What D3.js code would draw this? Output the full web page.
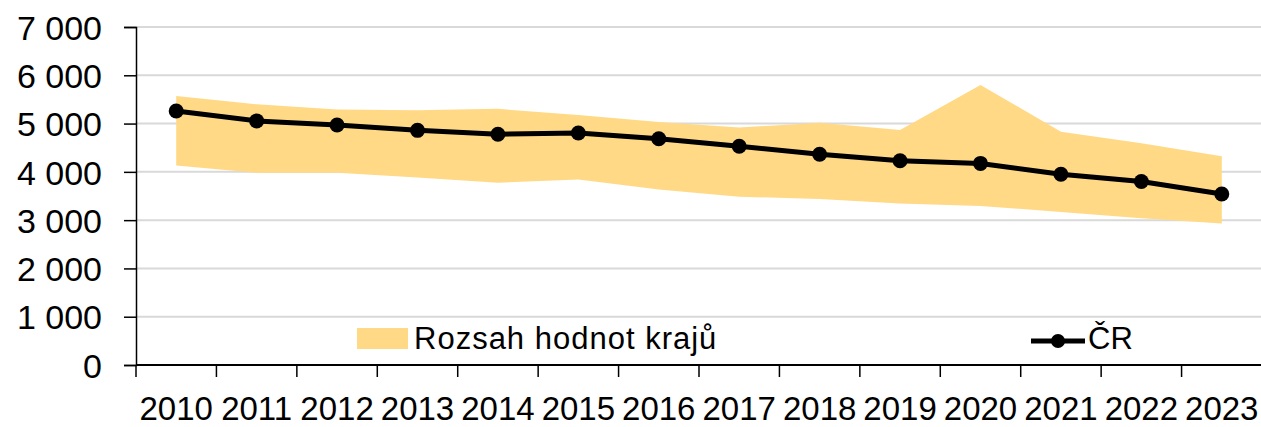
<!DOCTYPE html>
<html>
<head>
<meta charset="utf-8">
<script src="https://cdn.jsdelivr.net/npm/d3@7"></script>
<style>
  body { margin: 0; background: #fff; }
  text { font-family: "Liberation Sans", Arial, sans-serif; fill: #000; }
</style>
</head>
<body>
<div id="chart"></div>
<script>
var years = ["2010","2011","2012","2013","2014","2015","2016","2017","2018","2019","2020","2021","2022","2023"];
var crValues = [5260, 5055, 4970, 4860, 4780, 4805, 4685, 4530, 4365, 4230, 4175, 3950, 3800, 3540];
var regionMax = [5570, 5400, 5290, 5275, 5305, 5175, 5030, 4920, 5015, 4865, 5800, 4830, 4590, 4325];
var regionMin = [4130, 3980, 3980, 3885, 3775, 3840, 3635, 3485, 3440, 3345, 3295, 3170, 3040, 2930];
var yTicks = [0, 1000, 2000, 3000, 4000, 5000, 6000, 7000];

var margin = {top: 27, right: 0, bottom: 62, left: 136},
    width = 1262 - margin.left - margin.right,
    height = 427 - margin.top - margin.bottom;

var svg = d3.select("#chart").append("svg")
    .attr("width", 1261)
    .attr("height", 427)
  .append("g")
    .attr("transform", "translate(" + margin.left + "," + margin.top + ")");

var x = d3.scaleBand().domain(years).range([0, width]);
var y = d3.scaleLinear().domain([0, 7000]).range([height, 0]);
var cx = function(d, i) { return x(years[i]) + x.bandwidth() / 2; };

var fmt = function(v) { return d3.format(",")(v).replace(/,/g, " "); };

// gridlines
svg.selectAll(".grid").data(yTicks.slice(1)).enter()
  .append("line")
    .attr("x1", 0).attr("x2", width)
    .attr("y1", function(d) { return y(d); })
    .attr("y2", function(d) { return y(d); })
    .style("stroke", "#d9d9d9")
    .style("stroke-width", 2);

// range area
var area = d3.area()
    .x(cx)
    .y0(function(d, i) { return y(regionMin[i]); })
    .y1(function(d, i) { return y(regionMax[i]); });

svg.append("path")
    .datum(years)
    .attr("d", area)
    .style("fill", "#ffd985");

// y axis
var yAxis = d3.axisLeft(y).tickValues(yTicks).tickFormat(fmt).tickSize(12).tickPadding(22);
var gy = svg.append("g").call(yAxis);
gy.select(".domain").style("stroke", "#000").style("stroke-width", 1.5);
gy.selectAll(".tick line").style("stroke", "#000").style("stroke-width", 1.5);
gy.selectAll("text").style("font-size", "34px").attr("dy", "0.36em");

// x axis with ticks between categories
var gx = svg.append("g").attr("transform", "translate(0," + height + ")");
gx.append("line").attr("x1", 0).attr("x2", width).style("stroke", "#000").style("stroke-width", 2);
gx.selectAll(".xt").data(years).enter()
  .append("line")
    .attr("x1", function(d) { return x(d); })
    .attr("x2", function(d) { return x(d); })
    .attr("y1", 0).attr("y2", 12)
    .style("stroke", "#000").style("stroke-width", 1.5);
gx.selectAll(".xl").data(years).enter()
  .append("text")
    .attr("x", function(d) { return x(d) + x.bandwidth() / 2; })
    .attr("y", 55)
    .attr("text-anchor", "middle")
    .style("font-size", "33px")
    .text(function(d) { return d; });

// CR line
var line = d3.line().x(cx).y(function(d) { return y(d); });
svg.append("path")
    .datum(crValues)
    .attr("d", line)
    .style("fill", "none")
    .style("stroke", "#000")
    .style("stroke-width", 5);

svg.selectAll(".dot").data(crValues).enter()
  .append("circle")
    .attr("cx", cx)
    .attr("cy", function(d) { return y(d); })
    .attr("r", 7.5)
    .style("fill", "#000");

// legend
var lg = svg.append("g").attr("transform", "translate(" + (357 - margin.left) + "," + (338 - margin.top) + ")");
lg.append("rect").attr("x", 0).attr("y", -10).attr("width", 51).attr("height", 21).style("fill", "#ffd985");
lg.append("text").attr("x", 57).attr("y", 11).style("font-size", "31px").style("letter-spacing", "1px").text("Rozsah hodnot krajů");

var lg2 = svg.append("g").attr("transform", "translate(" + (1031 - margin.left) + "," + (341 - margin.top) + ")");
lg2.append("line").attr("x1", 0).attr("x2", 54).style("stroke", "#000").style("stroke-width", 5);
lg2.append("circle").attr("cx", 27).attr("r", 7).style("fill", "#000");
lg2.append("text").attr("x", 57).attr("y", 8).style("font-size", "31px").text("ČR");
</script>
</body>
</html>
